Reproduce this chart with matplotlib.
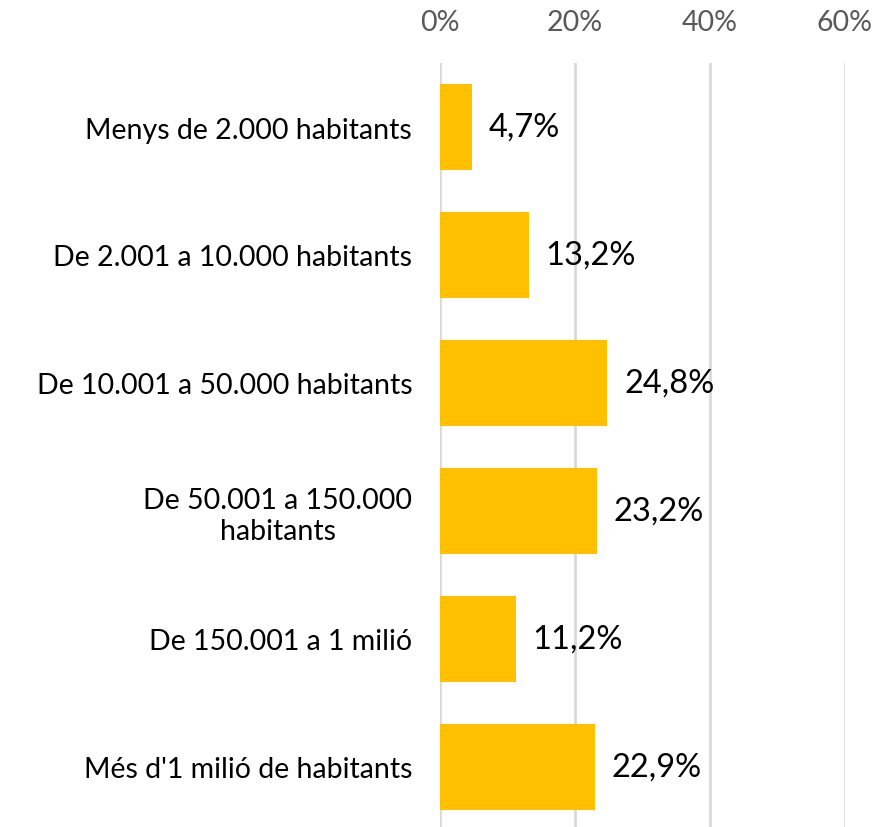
import matplotlib
matplotlib.use("Agg")
import matplotlib.pyplot as plt
from matplotlib.ticker import FuncFormatter

categories = [
    "Menys de 2.000 habitants",
    "De 2.001 a 10.000 habitants",
    "De 10.001 a 50.000 habitants",
    "De 50.001 a 150.000\nhabitants",
    "De 150.001 a 1 milió",
    "Més d'1 milió de habitants",
]
values = [4.7, 13.2, 24.8, 23.2, 11.2, 22.9]
value_labels = ["4,7%", "13,2%", "24,8%", "23,2%", "11,2%", "22,9%"]
xticks = [0, 20, 40, 60]

plt.rcParams['font.family'] = ['Lato', 'DejaVu Sans']

W, H = 876, 828
fig = plt.figure(figsize=(W / 100, H / 100), dpi=100)
x0, x60 = 440, 845
top = 64
ax = fig.add_axes([x0 / W, 0, (x60 - x0) / W, (H - top) / H])

y = list(range(len(categories)))
ax.barh(y, values, height=0.665, color="#FFC000", zorder=3)
ax.set_xlim(0, 60)
ax.set_ylim((H - 128) / 128, -0.5)

ax.set_xticks(xticks)
ax.xaxis.set_major_formatter(FuncFormatter(lambda v, p: f"{int(v)}%"))
ax.xaxis.tick_top()
ax.tick_params(axis='x', length=0, pad=20, labelsize=20.5, labelcolor="#595959")
ax.set_yticks(y)
ax.set_yticklabels(categories, fontsize=20.5, color="#000000", multialignment='center')
ax.tick_params(axis='y', length=0, pad=20)
ax.grid(axis='x', color="#D9D9D9", linewidth=2, zorder=0)
for s in ax.spines.values():
    s.set_visible(False)

for yi, v, lab in zip(y, values, value_labels):
    ax.annotate(lab, (v, yi), xytext=(12, 0), textcoords='offset points',
                va='center', ha='left', fontsize=23.5, color="#000000")

fig.savefig("out.png", dpi=100)
